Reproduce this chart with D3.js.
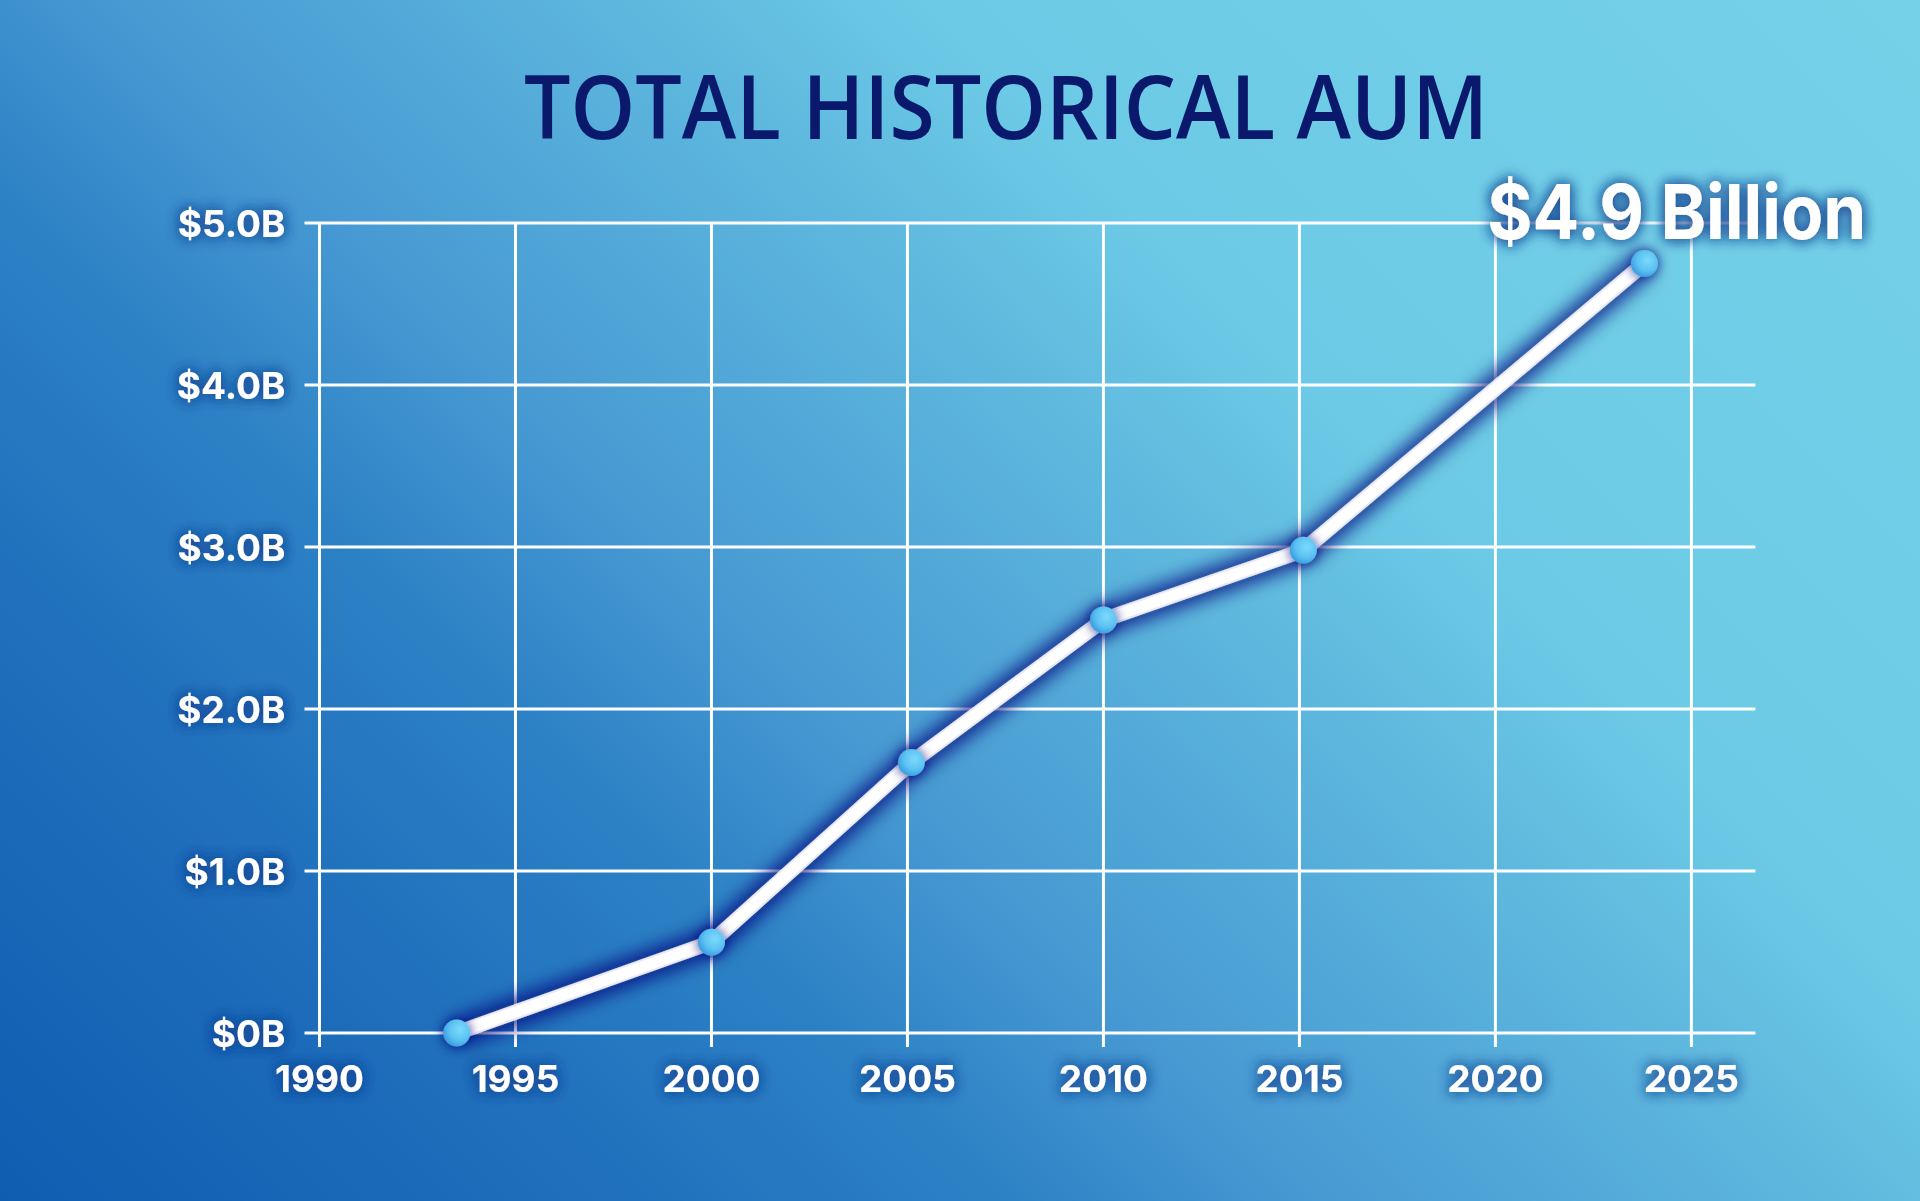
<!DOCTYPE html>
<html>
<head>
<meta charset="utf-8">
<script src="https://cdn.jsdelivr.net/npm/d3@7"></script>
<style>
  html, body { margin: 0; padding: 0; width: 1920px; height: 1201px; overflow: hidden; }
  svg { display: block; }
</style>
</head>
<body>
<svg id="chart" width="1920" height="1201"></svg>
<script>
// ---- data ----
const years = [1993.5, 2000, 2005.1, 2010, 2015.1, 2023.8];
const aumBillions = [0, 0.56, 1.67, 2.55, 2.98, 4.75];
const xTickValues = [1990, 1995, 2000, 2005, 2010, 2015, 2020, 2025];
const xTickLabels = ["1990", "1995", "2000", "2005", "2010", "2015", "2020", "2025"];
const yTickValues = [0, 1, 2, 3, 4, 5];
const yTickLabels = ["$0B", "$1.0B", "$2.0B", "$3.0B", "$4.0B", "$5.0B"];
const titleText = "TOTAL HISTORICAL AUM";
const annotationText = "$4.9 Billion";

const W = 1920, H = 1201;
const svg = d3.select("#chart");
const defs = svg.append("defs");

// background gradient (45deg, bottom-left dark to top-right light)
const bg = defs.append("linearGradient").attr("id", "bg")
  .attr("gradientUnits", "userSpaceOnUse")
  .attr("x1", 0).attr("y1", H).attr("x2", (W + H) / 2).attr("y2", H - (W + H) / 2);
[[0, "#0e5db1"], [0.19, "#1f6fbc"], [0.32, "#2c81c5"], [0.42, "#4699d2"],
 [0.615, "#62bde0"], [0.68, "#6ccae6"], [1, "#75d1e8"]].forEach(([o, c]) =>
  bg.append("stop").attr("offset", o).attr("stop-color", c));

// point gradient
const pg = defs.append("radialGradient").attr("id", "pt")
  .attr("cx", "62%").attr("cy", "38%").attr("r", "65%");
pg.append("stop").attr("offset", 0).attr("stop-color", "#7cd9fc");
pg.append("stop").attr("offset", 0.6).attr("stop-color", "#5cc2f2");
pg.append("stop").attr("offset", 1).attr("stop-color", "#3a9ee0");

function glow(id, std, color, op, passes) {
  const f = defs.append("filter").attr("id", id)
    .attr("x", "-30%").attr("y", "-30%").attr("width", "160%").attr("height", "160%");
  f.append("feGaussianBlur").attr("in", "SourceAlpha").attr("stdDeviation", std).attr("result", "b");
  f.append("feFlood").attr("flood-color", color).attr("flood-opacity", op);
  f.append("feComposite").attr("in2", "b").attr("operator", "in").attr("result", "s");
  const m = f.append("feMerge");
  for (let i = 0; i < (passes || 1); i++) m.append("feMergeNode").attr("in", "s");
  m.append("feMergeNode").attr("in", "SourceGraphic");
}
glow("textGlow", 7, "#16408f", 0.8, 2);
glow("lineGlow", 11, "#10127a", 0.85, 2);
glow("ptGlow", 6, "#10127a", 0.8, 1);

svg.append("rect").attr("width", W).attr("height", H).attr("fill", "url(#bg)");

// scales
const x = d3.scaleLinear().domain([1990, 2025]).range([319.5, 1691.4]);
const y = d3.scaleLinear().domain([0, 5]).range([1033, 223]);

// title
svg.append("text")
  .attr("x", 1006).attr("y", 139)
  .attr("text-anchor", "middle")
  .attr("font-family", "'Open Sans', sans-serif")
  .attr("font-weight", 600)
  .attr("font-size", 88)
  .attr("fill", "#0a196b")
  .attr("textLength", 964)
  .attr("lengthAdjust", "spacingAndGlyphs")
  .text(titleText);

// grid
const grid = svg.append("g").attr("stroke", "#ffffff").attr("stroke-width", 3);
grid.selectAll("line.h").data(yTickValues).join("line").attr("class", "h")
  .attr("x1", x(1990) - 15).attr("x2", x(2025) + 64)
  .attr("y1", d => y(d)).attr("y2", d => y(d));
grid.selectAll("line.v").data(xTickValues).join("line").attr("class", "v")
  .attr("x1", d => x(d)).attr("x2", d => x(d))
  .attr("y1", y(5)).attr("y2", y(0) + 14);

// axis labels
const labelFont = "Inter, 'Open Sans', sans-serif";
svg.append("g").attr("filter", "url(#textGlow)")
  .selectAll("text").data(yTickValues).join("text")
  .attr("x", x(1990) - 34).attr("y", d => y(d) + 14)
  .attr("text-anchor", "end")
  .attr("font-family", labelFont).attr("font-weight", 700).attr("font-size", 37)
  .attr("fill", "#ffffff")
  .text((d, i) => yTickLabels[i]);

svg.append("g").attr("filter", "url(#textGlow)")
  .selectAll("text").data(xTickValues).join("text")
  .attr("x", d => x(d)).attr("y", y(0) + 59)
  .attr("text-anchor", "middle")
  .attr("font-family", labelFont).attr("font-weight", 700).attr("font-size", 37)
  .attr("fill", "#ffffff")
  .text((d, i) => xTickLabels[i]);

// line
const pts = years.map((yr, i) => [yr, aumBillions[i]]);
const line = d3.line().x(d => x(d[0])).y(d => y(d[1]));
const lg = svg.append("g").attr("filter", "url(#lineGlow)");
lg.append("path").datum(pts)
  .attr("d", line)
  .attr("fill", "none")
  .attr("stroke", "#ece8f8")
  .attr("stroke-width", 15)
  .attr("stroke-linejoin", "round");
lg.append("path").datum(pts)
  .attr("d", line)
  .attr("fill", "none")
  .attr("stroke", "#ffffff")
  .attr("stroke-width", 11)
  .attr("stroke-linejoin", "round");

// points
svg.append("g").attr("filter", "url(#ptGlow)")
  .selectAll("circle").data(pts).join("circle")
  .attr("cx", d => x(d[0])).attr("cy", d => y(d[1]))
  .attr("r", 13.5)
  .attr("fill", "url(#pt)");

// annotation
const last = pts[pts.length - 1];
svg.append("text")
  .attr("x", x(last[0]) - 157).attr("y", y(last[1]) - 25)
  .attr("font-family", labelFont).attr("font-weight", 700).attr("font-size", 76)
  .attr("fill", "#ffffff")
  .attr("textLength", 379)
  .attr("lengthAdjust", "spacingAndGlyphs")
  .attr("filter", "url(#textGlow)")
  .text(annotationText);
</script>
</body>
</html>
